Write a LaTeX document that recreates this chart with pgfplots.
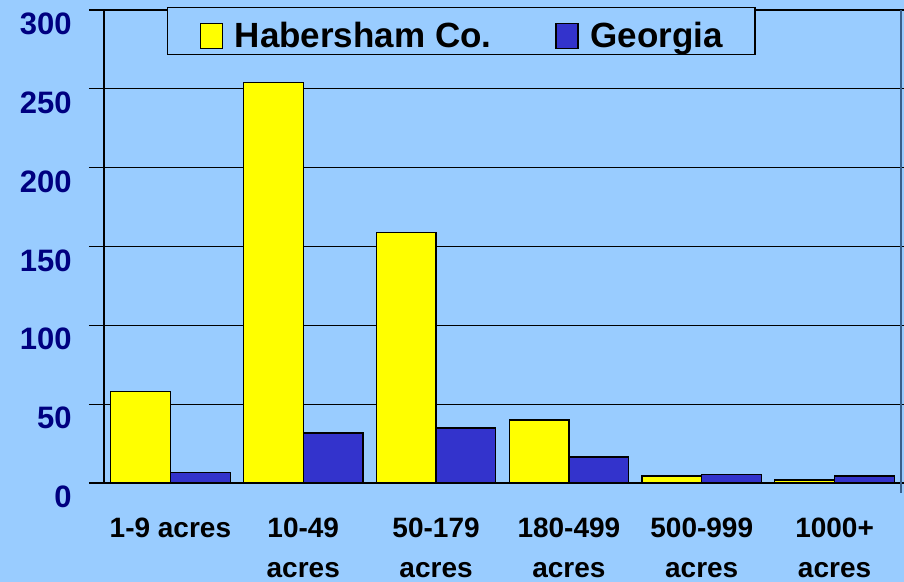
\documentclass[border=0pt]{standalone}
\usepackage{fontspec}
\setmainfont{Liberation Sans}
\usepackage{pgfplots}
\pgfplotsset{compat=1.18}
\definecolor{bgblue}{HTML}{99CCFF}
\definecolor{barblue}{HTML}{3333CC}
\definecolor{baryellow}{HTML}{FFFF00}
\definecolor{navy}{HTML}{000080}
\definecolor{edgegray}{HTML}{3A5F8A}

\begin{document}
\begin{tikzpicture}
\fill[bgblue] (-52pt,-49.5pt) rectangle (400pt,241.5pt);
\begin{axis}[
    scale only axis, width=398.5pt, height=236.5pt,
    xmin=-0.5, xmax=5.5, ymin=0, ymax=300,
    ybar, bar width=0.45,
    axis line style={black, line width=0.6pt},
    ytick distance=50, ymajorgrids,
    grid style={black, line width=0.6pt},
    tick align=outside, tick style={black, line width=0.6pt},
    major tick length=7.5pt,
    /pgf/number format/assume math mode=true,
    yticklabel style={font=\fontsize{15.5}{16}\selectfont\bfseries, text=navy,
        anchor=east, inner sep=0pt, xshift=-8.5pt, yshift=-7pt},
    xtick={0,...,5}, x tick style={draw=none},
    xticklabels={1-9 acres, {10-49\\acres}, {50-179\\acres}, {180-499\\acres},
        {500-999\\acres}, {1000+\\acres}},
    xticklabel style={font=\fontsize{14}{20}\selectfont\bfseries, align=center,
        anchor=north, inner sep=0pt, yshift=-10pt},
    extra x ticks={-0.5,0.5,...,5.5}, extra x tick labels={},
    extra x tick style={grid=none, major tick length=5pt, tick style={draw=black}},
    legend columns=2,
    legend style={at={(0.079,1.0063)}, anchor=north west, draw=black, fill=bgblue,
        line width=0.6pt,
        font=\fontsize{17.5}{18}\selectfont\bfseries,
        inner xsep=16pt, inner ysep=0pt, column sep=0pt,
        nodes={inner sep=0pt, text height=20pt, text depth=3.5pt},
        /tikz/every odd column/.append style={column sep=6pt},
        /tikz/every even column/.append style={column sep=32pt}},
    legend image code/.code={\draw[#1, draw=black, line width=0.6pt] (0pt,-8.5pt) rectangle (11pt,4pt);},
]
\addplot[fill=baryellow, draw=black, line width=0.6pt, bar shift=-0.225]
    coordinates {(0,58) (1,254) (2,159) (3,40) (4,4.4) (5,1.9)};
\addplot[fill=barblue, draw=black, line width=0.6pt, bar shift=0.225]
    coordinates {(0,6.8) (1,31.7) (2,34.9) (3,16.5) (4,5.3) (5,4.4)};
\legend{Habersham Co., Georgia}
\end{axis}
\draw[edgegray, line width=0.8pt] (398.5pt,-5pt) -- (398.5pt,236.5pt);
\pgfresetboundingbox
\path[use as bounding box] (-52pt,-49.5pt) rectangle (400pt,241.5pt);
\end{tikzpicture}
\end{document}
